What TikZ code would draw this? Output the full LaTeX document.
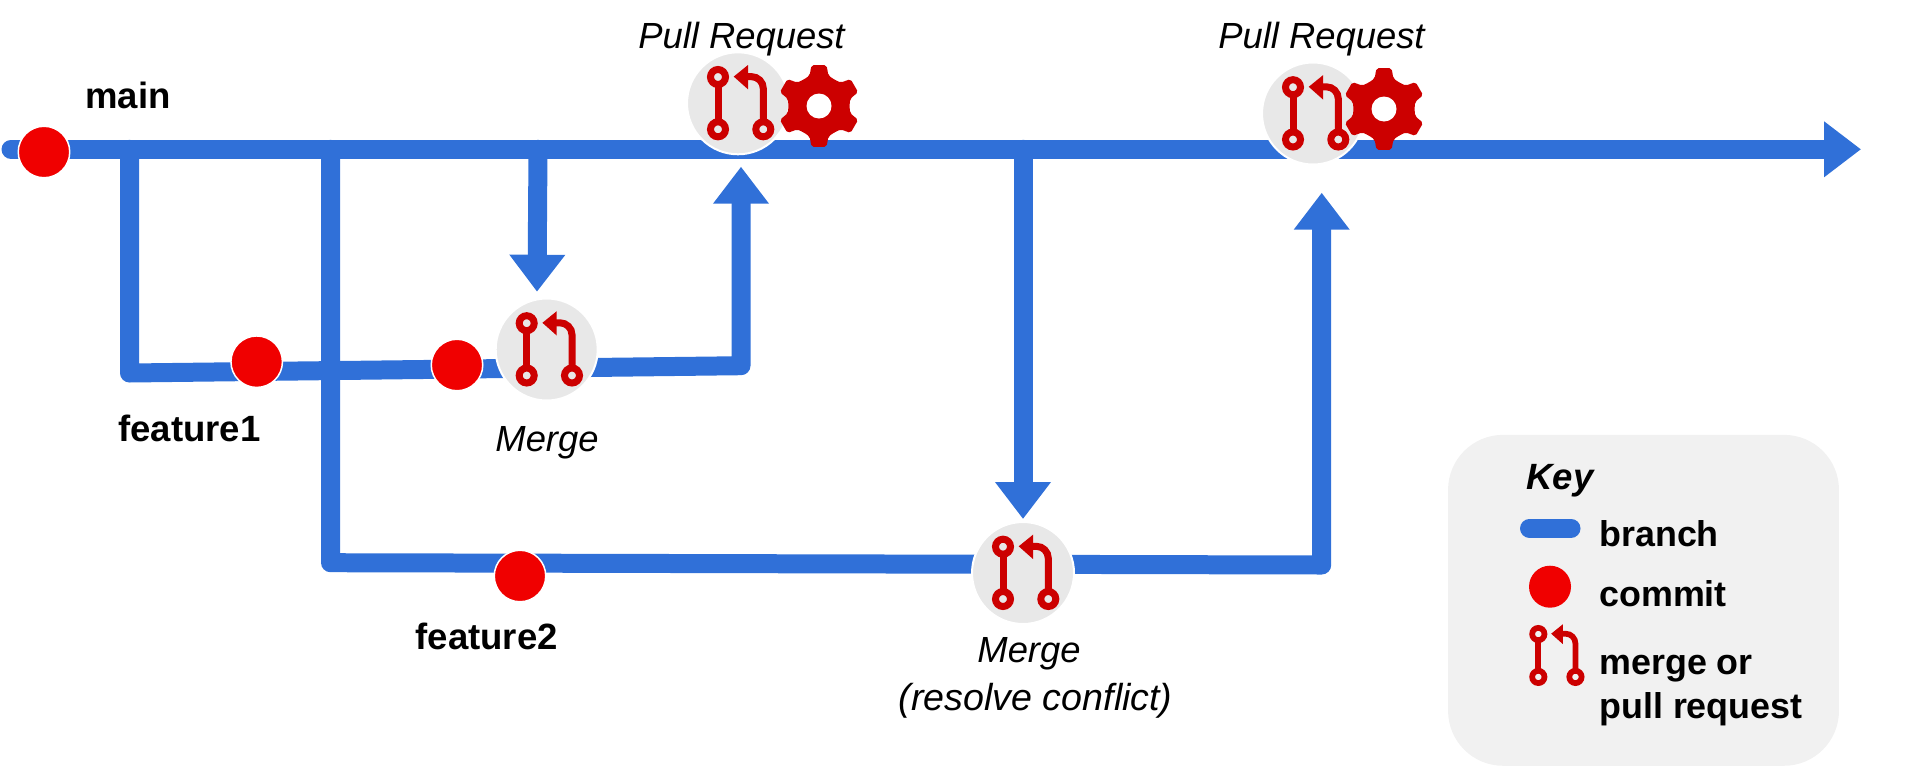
\documentclass[tikz,border=0pt]{standalone}
\usepackage{fontspec}
\setmainfont{Liberation Sans}
\usetikzlibrary{arrows.meta,shapes.geometric}
\definecolor{branchblue}{HTML}{3070D8}
\definecolor{commitred}{HTML}{F00000}
\definecolor{iconred}{HTML}{CC0000}
\definecolor{mergegray}{HTML}{E8E8E8}
\definecolor{keygray}{HTML}{F1F1F1}
\tikzset{
    branch/.style={draw=branchblue, line width=0.38cm, line cap=round, line join=round},
    flow/.style={branch, -{Triangle[length=0.74cm,width=1.07cm]}},
    commit/.style={circle, fill=commitred, draw=white, line width=0.03cm, minimum size=1.03cm, inner sep=0},
    keycommit/.style={circle, fill=commitred, minimum size=0.84cm, inner sep=0},
    mergebg/.style={circle, fill=mergegray, draw=white, line width=0.04cm, minimum size=2.04cm, inner sep=0},
    keybox/.style={rectangle, fill=keygray, rounded corners=1.1cm, minimum width=7.82cm, minimum height=6.62cm, inner sep=0},
    lbl/.style={font=\fontsize{20.8}{24}\selectfont\bfseries, inner sep=0, anchor=base},
    keylbl/.style={font=\fontsize{20.4}{24}\selectfont\bfseries, inner sep=0, anchor=base west},
    note/.style={font=\fontsize{20.7}{24}\selectfont\itshape, inner sep=0, anchor=base},
    pics/mergeicon/.style={code={
        \tikzset{every path/.style={draw=iconred, line width=#1*0.14cm}}
        \draw (-20,-26.3) circle (7.5);
        \draw (-20,26) circle (7.5);
        \draw (25.3,26) circle (7.5);
        \draw (-20,-18.8) -- (-20,18.5);
        \draw[rounded corners=#1*0.24cm] (25.3,18.5) -- (25.3,-26.7) -- (8,-26.7);
        \fill[iconred, draw=none] (-4.3,-26.7) -- (10,-38.3) -- (10,-14) -- cycle;
    }},
    pics/mergeicon/.default=1,
    pics/gearicon/.style={code={
        \fill[iconred, even odd rule, rounded corners=0.04cm] (0:30.5)
            \foreach \a in {30,90,...,330} { -- (\a-17:32) -- (\a-10.5:41.5) -- (\a+10.5:41.5) -- (\a+17:32) -- (\a+30:30.5) } -- cycle;
        \fill[white] (0,0) circle (12.5);
    }}
}
\begin{document}
\begin{tikzpicture}[x=0.02cm, y=-0.02cm]
    \useasboundingbox (0,0) rectangle (1905,768);

    \coordinate (mainStart) at (11,149.3);
    \coordinate (mainEnd) at (1861,149.3);
    \coordinate (f1Top) at (129.5,149.3);
    \coordinate (f1Corner) at (129.5,373);
    \coordinate (f1End) at (741,365.7);
    \coordinate (f1Tip) at (741,166.7);
    \coordinate (f2Top) at (330.5,149.3);
    \coordinate (f2Corner) at (330.5,562.7);
    \coordinate (f2End) at (1321.7,565);
    \coordinate (f2Tip) at (1321.7,192.7);
    \coordinate (sync1) at (538,149.3);
    \coordinate (sync1Tip) at (537,291.7);
    \coordinate (sync2) at (1023,149.3);
    \coordinate (sync2Tip) at (1023,519);

    \draw[flow] (mainStart) -- (mainEnd);
    \draw[flow] (f1Top) -- (f1Corner) -- (f1End) -- (f1Tip);
    \draw[flow] (f2Top) -- (f2Corner) -- (f2End) -- (f2Tip);
    \draw[flow] (sync1) -- (sync1Tip);
    \draw[flow] (sync2) -- (sync2Tip);

    \node[commit] (c1) at (44,152) {};
    \node[commit] (c2) at (256.7,361.7) {};
    \node[commit] (c3) at (457,365) {};
    \node[commit] (c4) at (520,576) {};

    \node[mergebg] (pr1) at (738,103.3) {};
    \node[mergebg] (pr2) at (1313,113.5) {};
    \node[mergebg] (m1) at (546.7,349.5) {};
    \node[mergebg] (m2) at (1023,573) {};
    \pic at (pr1) {mergeicon};
    \pic at (pr2) {mergeicon};
    \pic at (m1) {mergeicon};
    \pic at (m2) {mergeicon};
    \pic at (819,106) {gearicon};
    \pic at (1384,109) {gearicon};

    \node[lbl] (mainLbl) at (128,108.3) {main};
    \node[lbl] (f1Lbl) at (189.5,441) {feature1};
    \node[lbl] (f2Lbl) at (486.7,649) {feature2};
    \node[note] (pr1Lbl) at (741.5,48) {Pull Request};
    \node[note] (pr2Lbl) at (1321.5,48) {Pull Request};
    \node[note] (m1Lbl) at (547,451.7) {Merge};
    \node[note] (m2Lbl) at (1029,662) {Merge};
    \node[note, font=\fontsize{21.4}{24}\selectfont\itshape] (m2Sub) at (1035.7,710) {(resolve conflict)};

    \node[keybox] (key) at (1643.5,600.3) {};
    \node[keylbl, font=\fontsize{20.8}{24}\selectfont\bfseries\itshape] (keyTitle) at (1526,489.3) {Key};
    \coordinate (keyA) at (1529.5,528.3);
    \coordinate (keyB) at (1571,528.3);
    \draw[branch] (keyA) -- (keyB);
    \node[keylbl] (keyBranch) at (1599,546.7) {branch};
    \node[keycommit] (keyDot) at (1550,586.7) {};
    \node[keylbl] (keyCommit) at (1599,606.7) {commit};
    \pic[scale=0.82] at (1554.7,655.6) {mergeicon=0.82};
    \node[keylbl] (keyMerge) at (1599,674) {merge or};
    \node[keylbl] (keyPull) at (1599,718) {pull request};
\end{tikzpicture}
\end{document}
